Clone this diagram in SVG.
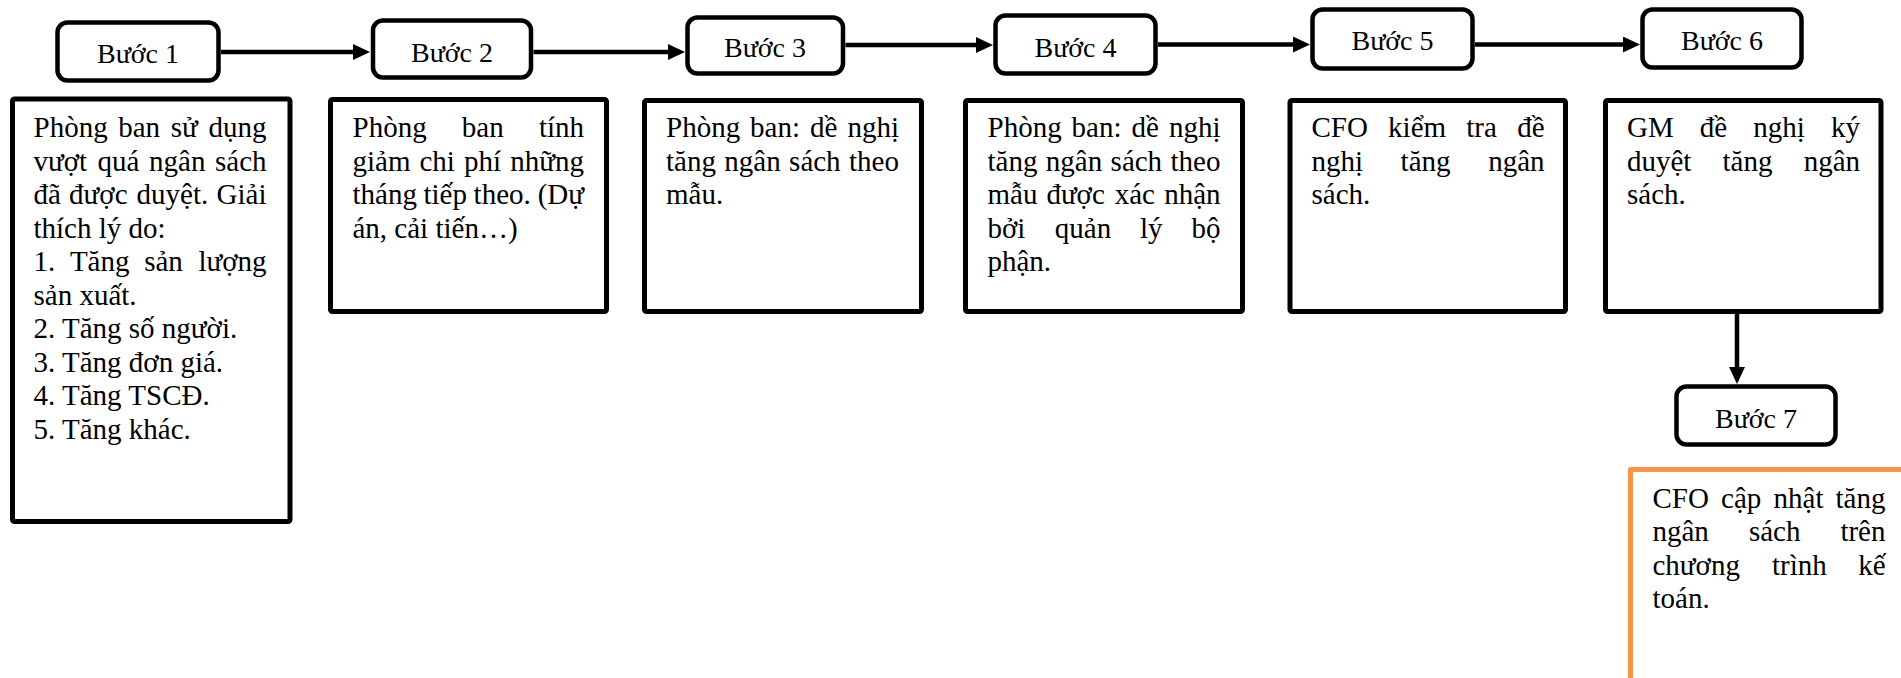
<svg xmlns="http://www.w3.org/2000/svg" width="1901" height="678" viewBox="0 0 1901 678">
  <style>
    .step rect { fill: #fff; stroke: #000; stroke-width: 4.5; }
    .card rect { fill: #fff; stroke: #000; stroke-width: 5; stroke-linejoin: round; }
    .card.last rect { stroke: #F79646; }
    text { font-family: "Liberation Serif", "Times New Roman", serif; font-size: 29px; fill: #000; }
    .step text { font-size: 28px; text-anchor: middle; }
    .e { text-anchor: end; }
    .links line { stroke: #000; stroke-width: 4.5; marker-end: url(#head); }
  </style>
  <defs>
    <marker id="head" markerUnits="userSpaceOnUse" markerWidth="18" markerHeight="18" refX="9" refY="8" orient="auto">
      <path d="M0,0 L17,8 L0,16 Z" fill="#000"/>
    </marker>
  </defs>

  <!-- connectors -->
  <g id="connectors" class="links">
    <line x1="221" y1="52" x2="362" y2="52"/>
    <line x1="533.5" y1="52" x2="677" y2="52"/>
    <line x1="845.5" y1="45" x2="985" y2="45"/>
    <line x1="1158" y1="44.5" x2="1302" y2="44.5"/>
    <line x1="1475" y1="44.5" x2="1632" y2="44.5"/>
    <line x1="1737" y1="313" x2="1737" y2="376"/>
  </g>

  <!-- step headers -->
  <g id="step1" class="step">
    <rect x="57.5" y="22.5" width="161" height="58" rx="10"/>
    <text x="138" y="63">Bước 1</text>
  </g>
  <g id="step2" class="step">
    <rect x="373" y="20.5" width="158" height="57" rx="10"/>
    <text x="452" y="62">Bước 2</text>
  </g>
  <g id="step3" class="step">
    <rect x="687.5" y="17.5" width="155.5" height="56" rx="10"/>
    <text x="765" y="57">Bước 3</text>
  </g>
  <g id="step4" class="step">
    <rect x="995.5" y="15.5" width="160" height="58" rx="10"/>
    <text x="1075.5" y="56.5">Bước 4</text>
  </g>
  <g id="step5" class="step">
    <rect x="1312.5" y="9.5" width="160" height="59" rx="10"/>
    <text x="1392.5" y="50">Bước 5</text>
  </g>
  <g id="step6" class="step">
    <rect x="1642.5" y="9.5" width="159" height="58" rx="10"/>
    <text x="1722" y="50">Bước 6</text>
  </g>
  <g id="step7" class="step">
    <rect x="1676.5" y="386.5" width="159" height="58" rx="10"/>
    <text x="1756" y="427.5">Bước 7</text>
  </g>

  <!-- step descriptions -->
  <g id="card1" class="card">
    <rect x="12.5" y="99" width="277.5" height="422.5" rx="2"/>
    <text y="137"><tspan x="33.5">Phòng</tspan><tspan x="118.2">ban</tspan><tspan x="170.7">sử</tspan><tspan x="266.5" class="e">dụng</tspan></text>
    <text y="170.5"><tspan x="33.5">vượt</tspan><tspan x="97.6">quá</tspan><tspan x="149.1">ngân</tspan><tspan x="266.5" class="e">sách</tspan></text>
    <text y="204"><tspan x="33.5">đã</tspan><tspan x="69.1">được</tspan><tspan x="136.6">duyệt.</tspan><tspan x="266.5" class="e">Giải</tspan></text>
    <text x="33.5" y="237.5">thích lý do:</text>
    <text y="271"><tspan x="33.5">1.</tspan><tspan x="69.9">Tăng</tspan><tspan x="144.2">sản</tspan><tspan x="266.5" class="e">lượng</tspan></text>
    <text x="33.5" y="304.5">sản xuất.</text>
    <text x="33.5" y="338">2. Tăng số người.</text>
    <text x="33.5" y="371.5">3. Tăng đơn giá.</text>
    <text x="33.5" y="405">4. Tăng TSCĐ.</text>
    <text x="33.5" y="438.5">5. Tăng khác.</text>
  </g>
  <g id="card2" class="card">
    <rect x="330.5" y="99.5" width="276" height="212" rx="2"/>
    <text y="137"><tspan x="352.5">Phòng</tspan><tspan x="461.8">ban</tspan><tspan x="584" class="e">tính</tspan></text>
    <text y="170.5"><tspan x="352.5">giảm</tspan><tspan x="419.5">chi</tspan><tspan x="463.9">phí</tspan><tspan x="584" class="e">những</tspan></text>
    <text y="204"><tspan x="352.5">tháng</tspan><tspan x="423.5">tiếp</tspan><tspan x="473.6">theo.</tspan><tspan x="584" class="e">(Dự</tspan></text>
    <text x="352.5" y="237.5">án, cải tiến…)</text>
  </g>
  <g id="card3" class="card">
    <rect x="644.5" y="100.5" width="277" height="211" rx="2"/>
    <text y="137"><tspan x="666">Phòng</tspan><tspan x="750.1">ban:</tspan><tspan x="810">dề</tspan><tspan x="899" class="e">nghị</tspan></text>
    <text y="170.5"><tspan x="666">tăng</tspan><tspan x="724.3">ngân</tspan><tspan x="789.1">sách</tspan><tspan x="899" class="e">theo</tspan></text>
    <text x="666" y="204">mẫu.</text>
  </g>
  <g id="card4" class="card">
    <rect x="965.5" y="100.5" width="277" height="211" rx="2"/>
    <text y="137"><tspan x="987.5">Phòng</tspan><tspan x="1071.6">ban:</tspan><tspan x="1131.5">dề</tspan><tspan x="1220.5" class="e">nghị</tspan></text>
    <text y="170.5"><tspan x="987.5">tăng</tspan><tspan x="1045.8">ngân</tspan><tspan x="1110.6">sách</tspan><tspan x="1220.5" class="e">theo</tspan></text>
    <text y="204"><tspan x="987.5">mẫu</tspan><tspan x="1046.4">được</tspan><tspan x="1114.7">xác</tspan><tspan x="1220.5" class="e">nhận</tspan></text>
    <text y="237.5"><tspan x="987.5">bởi</tspan><tspan x="1054.8">quản</tspan><tspan x="1140">lý</tspan><tspan x="1220.5" class="e">bộ</tspan></text>
    <text x="987.5" y="271">phận.</text>
  </g>
  <g id="card5" class="card">
    <rect x="1290" y="100.5" width="275.5" height="211" rx="2"/>
    <text y="137"><tspan x="1311.5">CFO</tspan><tspan x="1388.1">kiểm</tspan><tspan x="1466.3">tra</tspan><tspan x="1544.5" class="e">đề</tspan></text>
    <text y="170.5"><tspan x="1311.5">nghị</tspan><tspan x="1400.6">tăng</tspan><tspan x="1544.5" class="e">ngân</tspan></text>
    <text x="1311.5" y="204">sách.</text>
  </g>
  <g id="card6" class="card">
    <rect x="1605.5" y="100.5" width="275.5" height="211" rx="2"/>
    <text y="137"><tspan x="1627">GM</tspan><tspan x="1699.8">đề</tspan><tspan x="1753.3">nghị</tspan><tspan x="1860" class="e">ký</tspan></text>
    <text y="170.5"><tspan x="1627">duyệt</tspan><tspan x="1722.5">tăng</tspan><tspan x="1860" class="e">ngân</tspan></text>
    <text x="1627" y="204">sách.</text>
  </g>
  <g id="card7" class="card last">
    <rect x="1630.5" y="469.5" width="300" height="260"/>
    <text y="507.5"><tspan x="1652.5">CFO</tspan><tspan x="1721.1">cập</tspan><tspan x="1773.6">nhật</tspan><tspan x="1885.5" class="e">tăng</tspan></text>
    <text y="541"><tspan x="1652.5">ngân</tspan><tspan x="1748.9">sách</tspan><tspan x="1885.5" class="e">trên</tspan></text>
    <text y="574.5"><tspan x="1652.5">chương</tspan><tspan x="1772">trình</tspan><tspan x="1885.5" class="e">kế</tspan></text>
    <text x="1652.5" y="608">toán.</text>
  </g>
</svg>
